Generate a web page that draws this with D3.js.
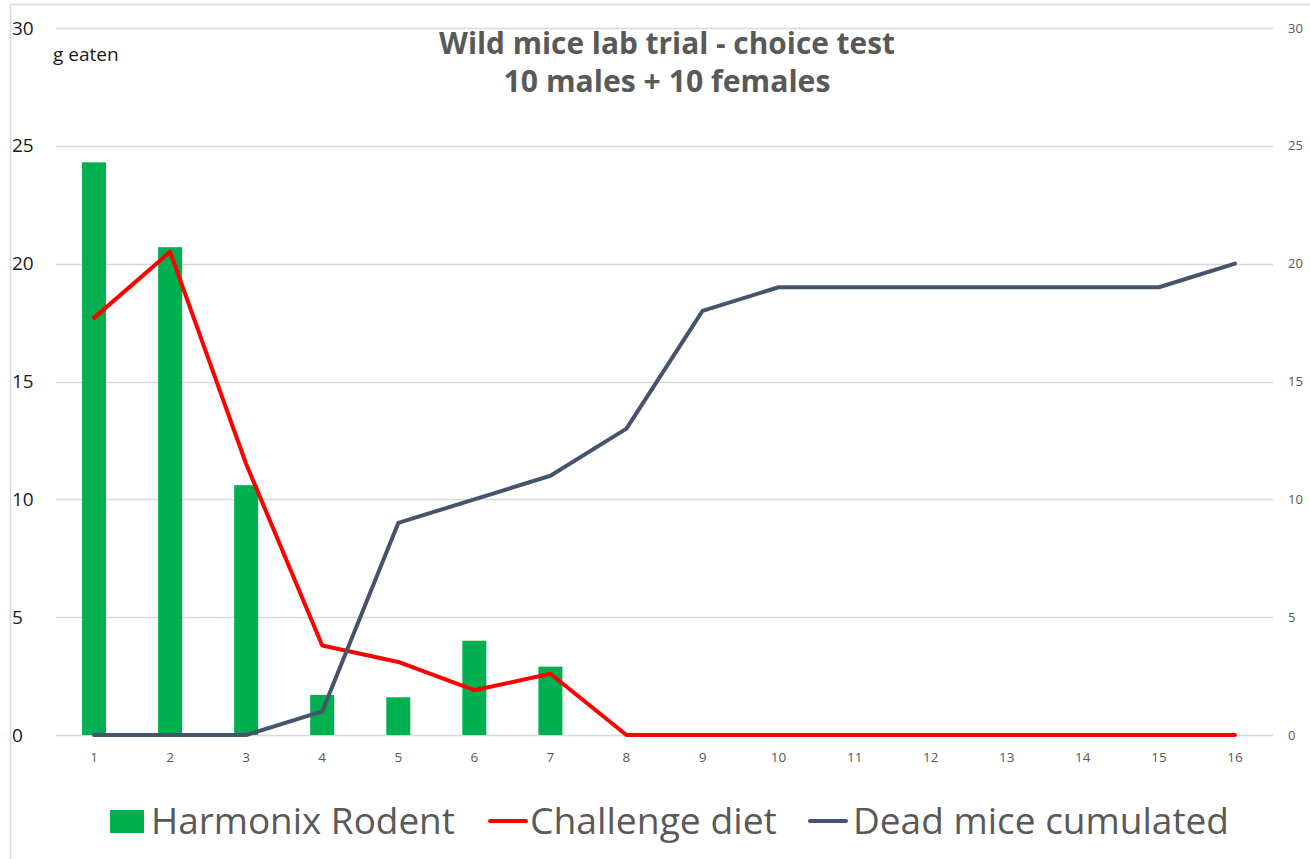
<!DOCTYPE html>
<html>
<head>
<meta charset="utf-8">
<script src="https://cdn.jsdelivr.net/npm/d3@7"></script>
<style>
  body { margin: 0; background: #fff; }
  svg { display: block; font-family: "Open Sans", "Noto Sans", sans-serif; }
</style>
</head>
<body>
<svg id="chart" width="1310" height="859"></svg>
<script>
// data
const days = ['1','2','3','4','5','6','7','8','9','10','11','12','13','14','15','16'];
const harmonix = [24.3, 20.7, 10.6, 1.7, 1.6, 4.0, 2.9, null, null, null, null, null, null, null, null, null];
const challenge = [17.7, 20.5, 11.5, 3.8, 3.1, 1.9, 2.6, 0, 0, 0, 0, 0, 0, 0, 0, 0];
const deadMice = [0, 0, 0, 1, 9, 10, 11, 13, 18, 19, 19, 19, 19, 19, 19, 20];
const yTicks = [0, 5, 10, 15, 20, 25, 30];
const titleLines = ['Wild mice lab trial - choice test', '10 males + 10 females'];

const svg = d3.select('#chart');
const grey = '#595959';

// fit a text element to a given width by changing its font size
function fitWidth(sel, w) {
  let node = sel.node();
  let fs = parseFloat(sel.attr('font-size'));
  let len = node.getComputedTextLength();
  if (len > 0) sel.attr('font-size', (fs * w / len).toFixed(2));
  return sel;
}

// outer border of chart area
svg.append('path')
  .attr('d', 'M10.5,859 L10.5,4.5 L1310,4.5')
  .attr('fill', 'none').attr('stroke', '#d9d9d9').attr('stroke-width', 1.5);

const x = d3.scaleBand().domain(days).range([56, 1273]);
const y = d3.scaleLinear().domain([0, 30]).range([735, 28]);
const y2 = d3.scaleLinear().domain([0, 30]).range([735, 28]);

// gridlines
svg.append('g').selectAll('line').data(yTicks).join('line')
  .attr('x1', 56).attr('x2', 1273)
  .attr('y1', d => Math.round(y(d)) + 0.5).attr('y2', d => Math.round(y(d)) + 0.5)
  .attr('stroke', '#d9d9d9').attr('stroke-width', 1.5);

// left axis labels
svg.append('g').selectAll('text').data(yTicks).join('text')
  .attr('x', 12).attr('y', d => y(d))
  .attr('dy', '0.35em')
  .attr('font-size', 19).attr('fill', '#1a1a1a')
  .text(d => d);

// right axis labels
svg.append('g').selectAll('text').data(yTicks).join('text')
  .attr('x', 1288).attr('y', d => y2(d))
  .attr('dy', '0.35em')
  .attr('font-size', 13).attr('fill', grey)
  .text(d => d);

svg.append('text').attr('x', 53).attr('y', 61)
  .attr('font-size', 19).attr('fill', '#1a1a1a')
  .text('g eaten');

// x labels
svg.append('g').selectAll('text').data(days).join('text')
  .attr('x', d => x(d) + x.bandwidth() / 2).attr('y', 757)
  .attr('dy', '0.35em').attr('text-anchor', 'middle')
  .attr('font-size', 13.5).attr('fill', grey)
  .text(d => d);

// bars
const barW = 24;
svg.append('g').selectAll('rect')
  .data(days.map((d, i) => ({ day: d, v: harmonix[i] })).filter(d => d.v != null))
  .join('rect')
  .attr('x', d => x(d.day) + x.bandwidth() / 2 - barW / 2)
  .attr('width', barW)
  .attr('y', d => y(d.v))
  .attr('height', d => y(0) - y(d.v))
  .attr('fill', '#00b050');

const cx = d => x(d) + x.bandwidth() / 2;

svg.append('path')
  .datum(days.map((d, i) => [cx(d), y(challenge[i])]))
  .attr('d', d3.line())
  .attr('fill', 'none').attr('stroke', '#ff0000').attr('stroke-width', 4)
  .attr('stroke-linejoin', 'round').attr('stroke-linecap', 'round');

svg.append('path')
  .datum(days.map((d, i) => [cx(d), y2(deadMice[i])]))
  .attr('d', d3.line())
  .attr('fill', 'none').attr('stroke', '#44546a').attr('stroke-width', 4)
  .attr('stroke-linejoin', 'round').attr('stroke-linecap', 'round');

// title
const t1 = svg.append('text').attr('x', 667).attr('y', 54)
  .attr('text-anchor', 'middle').attr('font-weight', 'bold')
  .attr('font-size', 27).attr('fill', grey).text(titleLines[0]);
fitWidth(t1, 456);
const t2 = svg.append('text').attr('x', 667).attr('y', 92)
  .attr('text-anchor', 'middle').attr('font-weight', 'bold')
  .attr('font-size', 27).attr('fill', grey).text(titleLines[1]);
fitWidth(t2, 327);

// legend
const legend = [
  { name: 'Harmonix Rodent', type: 'bar', color: '#00b050', x: 110, tx: 151, w: 304 },
  { name: 'Challenge diet', type: 'line', color: '#ff0000', x: 490, tx: 530, w: 247 },
  { name: 'Dead mice cumulated', type: 'line', color: '#44546a', x: 810, tx: 853, w: 376 }
];
const lg = svg.append('g').selectAll('g').data(legend).join('g');
lg.filter(d => d.type === 'bar').append('rect')
  .attr('x', d => d.x).attr('y', 810).attr('width', 34).attr('height', 23)
  .attr('fill', d => d.color);
lg.filter(d => d.type === 'line').append('line')
  .attr('x1', d => d.x).attr('x2', d => d.x + 36)
  .attr('y1', 821).attr('y2', 821)
  .attr('stroke', d => d.color).attr('stroke-width', 4).attr('stroke-linecap', 'round');
lg.append('text')
  .attr('x', d => d.tx).attr('y', 834)
  .attr('font-size', 36).attr('fill', grey)
  .text(d => d.name)
  .each(function (d) { fitWidth(d3.select(this), d.w); });
</script>
</body>
</html>
